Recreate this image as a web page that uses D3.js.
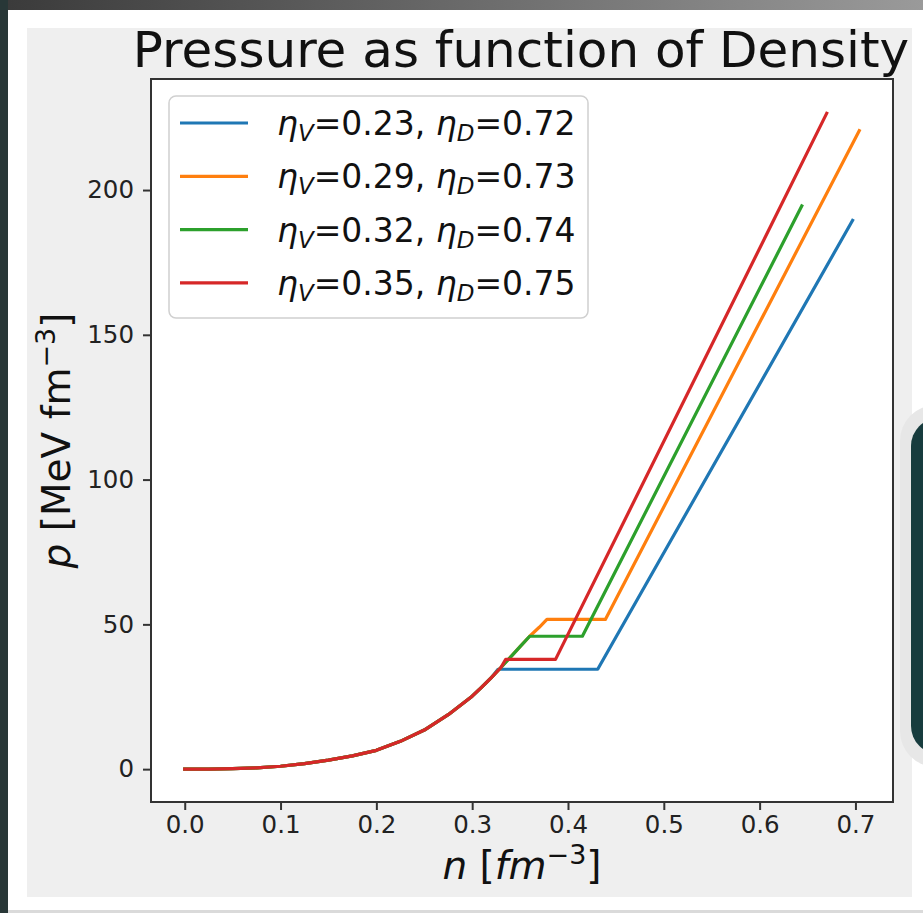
<!DOCTYPE html>
<html>
<head>
<meta charset="utf-8">
<script src="https://cdn.jsdelivr.net/npm/d3@7"></script>
<style>
  html, body { margin: 0; padding: 0; background: #fff; }
  svg { display: block; font-family: "DejaVu Sans", sans-serif; }
</style>
</head>
<body>
<svg id="chart" width="923" height="913"></svg>
<script>
// shared low density part of the equation of state
var commonDensity  = [0, 0.025, 0.05, 0.075, 0.1, 0.125, 0.15, 0.175, 0.2, 0.225, 0.25, 0.275, 0.3, 0.31, 0.32, 0.33, 0.34, 0.35, 0.36, 0.37, 0.38];
var commonPressure = [0, 0.02, 0.15, 0.45, 1.0, 1.9, 3.1, 4.6, 6.5, 9.6, 13.5, 18.8, 25.2, 28.3, 31.6, 35.1, 38.7, 42.3, 45.9, 49.0, 52.2];

// one entry per curve
var etaV = [0.23, 0.29, 0.32, 0.35];
var etaD = [0.72, 0.73, 0.74, 0.75];
var plateauStart    = [0.327, 0.378, 0.360, 0.335];
var plateauEnd      = [0.431, 0.439, 0.415, 0.387];
var plateauPressure = [34.5, 51.7, 45.9, 37.9];
var endDensity  = [0.697, 0.704, 0.644, 0.670];
var endPressure = [189.5, 220.5, 194.5, 226.5];
var colors = ['#1f77b4', '#ff7f0e', '#2ca02c', '#d62728'];

var xTicks = [0, 0.1, 0.2, 0.3, 0.4, 0.5, 0.6, 0.7];
var yTicks = [0, 50, 100, 150, 200];

function drawChart() {
  var svg = d3.select('#chart');

  // screenshot surroundings
  var defs = svg.append('defs');
  var grad = defs.append('linearGradient').attr('id', 'topgrad');
  grad.append('stop').attr('offset', '0%').attr('stop-color', '#3a3a3a');
  grad.append('stop').attr('offset', '100%').attr('stop-color', '#9a9a9a');
  svg.append('rect').attr('x', 0).attr('y', 0).attr('width', 923).attr('height', 10).attr('fill', 'url(#topgrad)');
  svg.append('rect').attr('x', 0).attr('y', 0).attr('width', 8).attr('height', 913).attr('fill', '#283737');
  svg.append('rect').attr('x', 8).attr('y', 910).attr('width', 915).attr('height', 3).attr('fill', '#dadada');
  svg.append('rect').attr('x', 27).attr('y', 28).attr('width', 885).attr('height', 869).attr('fill', '#efefef');

  // dark card at the right edge
  svg.append('rect').attr('x', 900).attr('y', 405).attr('width', 80).attr('height', 362)
    .attr('rx', 36).attr('fill', '#e7e7e7');
  svg.append('rect').attr('x', 911).attr('y', 418).attr('width', 80).attr('height', 336)
    .attr('rx', 28).attr('fill', '#173c3e');

  var plotLeft = 151, plotRight = 893, plotTop = 79, plotBottom = 802;

  var x = d3.scaleLinear().domain([-0.0352, 0.7392]).range([plotLeft, plotRight]);
  var y = d3.scaleLinear().domain([-11.35, 238.35]).range([plotBottom, plotTop]);

  svg.append('rect').attr('x', plotLeft).attr('y', plotTop)
    .attr('width', plotRight - plotLeft).attr('height', plotBottom - plotTop).attr('fill', '#fff');

  // curves
  var line = d3.line().x(function(d) { return x(d[0]); }).y(function(d) { return y(d[1]); });

  etaV.forEach(function(v, i) {
    var pts = [];
    commonDensity.forEach(function(n, j) {
      if (n < plateauStart[i]) pts.push([n, commonPressure[j]]);
    });
    pts.push([plateauStart[i], plateauPressure[i]]);
    pts.push([plateauEnd[i], plateauPressure[i]]);
    pts.push([endDensity[i], endPressure[i]]);
    svg.append('path').datum(pts)
      .attr('d', line)
      .attr('fill', 'none')
      .attr('stroke', colors[i])
      .attr('stroke-width', 3.2)
      .attr('stroke-linejoin', 'round')
      .attr('stroke-linecap', 'square');
  });

  // axes
  var xAxis = svg.append('g')
    .attr('transform', 'translate(0,' + plotBottom + ')')
    .call(d3.axisBottom(x).tickValues(xTicks).tickFormat(d3.format('.1f')).tickSize(8).tickPadding(6).tickSizeOuter(0));
  var yAxis = svg.append('g')
    .attr('transform', 'translate(' + plotLeft + ',0)')
    .call(d3.axisLeft(y).tickValues(yTicks).tickSize(8).tickPadding(9).tickSizeOuter(0));

  [xAxis, yAxis].forEach(function(g) {
    g.select('.domain').remove();
    g.selectAll('.tick line').attr('stroke', '#333').attr('stroke-width', 2);
    g.selectAll('.tick text')
      .attr('fill', '#222')
      .style('font-family', '"DejaVu Sans", sans-serif')
      .style('font-size', '24.5px');
  });

  svg.append('rect').attr('x', plotLeft).attr('y', plotTop)
    .attr('width', plotRight - plotLeft).attr('height', plotBottom - plotTop)
    .attr('fill', 'none').attr('stroke', '#333').attr('stroke-width', 2);

  // title
  svg.append('text')
    .attr('x', 521).attr('y', 67)
    .attr('text-anchor', 'middle')
    .style('font-size', '50px')
    .attr('fill', '#111')
    .text('Pressure as function of Density');

  // x label
  var xl = svg.append('text')
    .attr('x', (plotLeft + plotRight) / 2).attr('y', 879)
    .attr('text-anchor', 'middle')
    .style('font-size', '39px')
    .attr('fill', '#111');
  xl.append('tspan').style('font-style', 'italic').text('n');
  xl.append('tspan').text(' [');
  xl.append('tspan').style('font-style', 'italic').text('fm');
  xl.append('tspan').attr('dy', -15).style('font-size', '27px').text('\u22123');
  xl.append('tspan').attr('dy', 15).text(']');

  // y label
  var yl = svg.append('text')
    .attr('transform', 'translate(70,' + ((plotTop + plotBottom) / 2) + ') rotate(-90)')
    .attr('text-anchor', 'middle')
    .style('font-size', '39px')
    .attr('fill', '#111');
  yl.append('tspan').style('font-style', 'italic').text('p');
  yl.append('tspan').text(' [MeV fm');
  yl.append('tspan').attr('dy', -15).style('font-size', '27px').text('\u22123');
  yl.append('tspan').attr('dy', 15).text(']');

  // legend
  var legend = svg.append('g');
  legend.append('rect')
    .attr('x', 169).attr('y', 96).attr('width', 419).attr('height', 222)
    .attr('rx', 7)
    .attr('fill', '#fff').attr('fill-opacity', 0.85)
    .attr('stroke', '#d0d0d0').attr('stroke-width', 1.5);

  etaV.forEach(function(v, i) {
    var cy = 123 + i * 53.3;
    legend.append('line')
      .attr('x1', 180).attr('x2', 248).attr('y1', cy).attr('y2', cy)
      .attr('stroke', colors[i]).attr('stroke-width', 3.2);
    var t = legend.append('text')
      .attr('x', 277).attr('y', cy + 12)
      .style('font-size', '33px')
      .attr('fill', '#111');
    t.append('tspan').style('font-style', 'italic').text('\u03b7');
    t.append('tspan').attr('dy', 6).style('font-size', '23px').style('font-style', 'italic').text('V');
    t.append('tspan').attr('dy', -6).text('=' + d3.format('.2f')(v) + ', ');
    t.append('tspan').style('font-style', 'italic').text('\u03b7');
    t.append('tspan').attr('dy', 6).style('font-size', '23px').style('font-style', 'italic').text('D');
    t.append('tspan').attr('dy', -6).text('=' + d3.format('.2f')(etaD[i]));
  });
}

drawChart();
</script>
</body>
</html>
